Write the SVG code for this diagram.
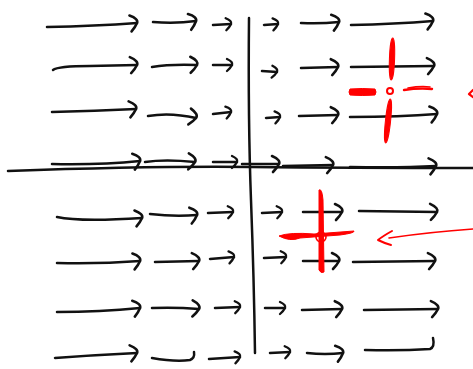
<svg xmlns="http://www.w3.org/2000/svg" width="473" height="369" viewBox="0 0 473 369">
<defs>
<style>
.a{fill:none;stroke:#111;stroke-width:2.5;stroke-linecap:round;stroke-linejoin:round}
.big{marker-end:url(#hb)}
.sm{marker-end:url(#hs)}
.r{fill:none;stroke:#f00;stroke-linecap:round;stroke-linejoin:round}
.rf{fill:#f00;stroke:#f00;stroke-width:1}
</style>
<marker id="hb" markerUnits="userSpaceOnUse" viewBox="-10 -10 14 20" markerWidth="14" markerHeight="20" refX="0" refY="0" orient="auto" overflow="visible">
<path d="M-7,-8 Q 2,-4 0,0 Q -2,4 -6,8" fill="none" stroke="#111" stroke-width="2.6" stroke-linecap="round"/>
</marker>
<marker id="hs" markerUnits="userSpaceOnUse" viewBox="-10 -10 14 20" markerWidth="14" markerHeight="20" refX="0" refY="0" orient="auto" overflow="visible">
<path d="M-5,-6 Q 1.5,-3 0,0 Q -1.5,3 -5,6" fill="none" stroke="#111" stroke-width="2.3" stroke-linecap="round"/>
</marker>
</defs>
<rect width="473" height="369" fill="#fff"/>
<g id="axes" class="a">
<path d="M8 171 Q 150 166 250 167 T 473 168"/>
<path d="M249 18 Q 248 120 251 200 T 255 353"/>
</g>
<g id="field">
<g id="row1" class="a">
<path class="big" d="M47 27 Q 95 26 137 23"/>
<path class="big" d="M153 22 Q 175 24 196 21"/>
<path class="sm" d="M213 25 L231 24"/>
<path class="sm" d="M264 25 L278 24"/>
<path class="big" d="M301 23 Q 320 24 339 22"/>
<path class="big" d="M351 25 Q 395 24 433 21"/>
</g>
<g id="row2" class="a">
<path class="big" d="M53 70 Q 58 66 90 66 L 137 65"/>
<path class="big" d="M152 67 Q 170 64 197 65"/>
<path class="sm" d="M213 65 L232 65"/>
<path class="sm" d="M262 71 L277 72"/>
<path class="big" d="M301 68 L338 67"/>
<path class="big" d="M351 67 L434 66"/>
</g>
<g id="row3" class="a">
<path class="big" d="M52 112 Q 95 111 136 109"/>
<path class="big" d="M148 116 Q 170 112 196 118"/>
<path class="sm" d="M213 114 L231 112"/>
<path class="sm" d="M266 118 L280 117"/>
<path class="big" d="M299 116 L338 115"/>
<path class="big" d="M350 117 Q 400 117 437 114"/>
</g>
<g id="row4" class="a">
<path class="big" d="M52 164 Q 100 165 140 161"/>
<path class="big" d="M145 162 Q 165 159 195 162"/>
<path class="sm" d="M213 162 L237 162"/>
<path class="big" d="M242 164 L279 164"/>
<path class="big" d="M283 166 L333 165"/>
<path class="big" d="M350 167 Q 400 168 436 166"/>
</g>
<g id="row5" class="a">
<path class="big" d="M57 217 Q 80 222 142 218"/>
<path class="big" d="M150 214 Q 175 217 197 215"/>
<path class="sm" d="M208 213 L233 212"/>
<path class="sm" d="M262 213 L282 212"/>
<path class="big" d="M303 212 L342 212"/>
<path class="big" d="M359 211 L437 212"/>
</g>
<g id="row6" class="a">
<path class="big" d="M57 263 Q 100 264 140 261"/>
<path class="big" d="M155 262 L199 261"/>
<path class="sm" d="M210 259 L234 257"/>
<path class="sm" d="M264 258 L286 257"/>
<path class="big" d="M303 261 L339 261"/>
<path class="big" d="M353 262 L435 261"/>
</g>
<g id="row7" class="a">
<path class="big" d="M57 312 Q 100 312 140 308"/>
<path class="big" d="M152 308 Q 175 307 199 309"/>
<path class="sm" d="M215 308 L240 307"/>
<path class="sm" d="M265 308 L285 308"/>
<path class="big" d="M302 310 L342 309"/>
<path class="big" d="M364 310 L438 309"/>
</g>
<g id="row8" class="a">
<path class="big" d="M55 358 Q 95 355 137 353"/>
<path d="M152 358 Q 175 362 190 360 Q 195 358 194 352"/>
<path class="sm" d="M209 359 L240 357"/>
<path class="sm" d="M270 353 L290 352"/>
<path class="big" d="M307 353 Q 325 355 343 353"/>
<path d="M365 350 Q 400 351 430 349 Q 435 347 433 338"/>
</g>
</g>
<g id="cross1">
<ellipse class="rf" cx="392" cy="59" rx="2.6" ry="21" transform="rotate(2 392 59)"/>
<ellipse class="rf" cx="388" cy="121" rx="2.6" ry="22" transform="rotate(6 388 121)"/>
<path class="rf" d="M350 89 Q 362 88 375 89 Q 377 92 375 95 Q 362 96 350 95 Q 348 92 350 89 Z"/>
<path class="r" stroke-width="2.4" d="M404 90 Q 418 88 432 89"/>
<path class="r" stroke-width="1.6" d="M408 88 Q 420 86 430 87"/>
<circle class="r" stroke-width="2" cx="390" cy="91" r="3"/>
</g>
<g id="cross2">
<path class="rf" d="M319 190 Q 322 188 323 200 L 324 272 Q 321 274 319 270 Z"/>
<path class="rf" d="M279 236 Q 290 232 314 234 L 354 231 Q 355 233 340 235 L 300 238 Q 290 242 279 236 Z"/>
<circle class="r" stroke-width="1.6" cx="321" cy="237" r="5"/>
<circle class="rf" cx="321" cy="237" r="1.5"/>
</g>
<g id="connectors">
<path class="r" stroke-width="1.6" d="M473 229 Q 430 232 389 238"/>
<path class="r" stroke-width="2" d="M392 231 Q 383 236 378 240 Q 384 243 391 245"/>
<path class="r" stroke-width="2.2" d="M473 90 L 469 94 L 473 97"/>
</g>
</svg>
